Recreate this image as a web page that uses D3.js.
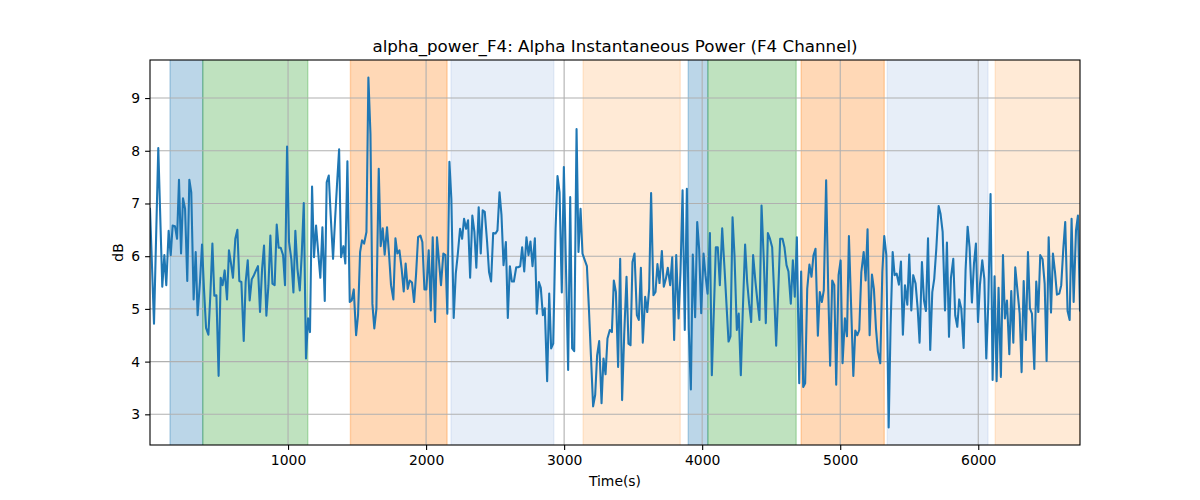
<!DOCTYPE html>
<html><head><meta charset="utf-8">
<script src="https://cdn.jsdelivr.net/npm/d3@7"></script>
<style>body{margin:0;background:#fff}svg{display:block}text{font-family:"DejaVu Sans",sans-serif;fill:#000}</style>
</head><body><svg id="c" width="1200" height="500"></svg>
<script>
const times = [0,29,60,89,104,118,135,150,164,181,196,210,225,239,254,270,285,299,316,331,345,362,377,391,406,423,437,452,466,481,497,512,526,541,558,572,587,601,618,633,647,662,679,693,708,722,737,753,768,782,797,
812,826,843,858,872,887,903,918,932,947,964,978,993,1007,1024,1039,1053,1068,1085,1099,1114,1130,1145,1159,1174,1188,1203,1220,1234,1249,1266,1280,1295,1309,1326,1341,1355,1370,1384,1401,1415,1430,1447,1461,1476,1493,1507,1522,1536,1551,1568,1582,1597,1611,
1625,1640,1657,1671,1686,1700,1717,1732,1746,1763,1778,1792,1807,1823,1838,1852,1867,1881,1898,1913,1927,1942,1959,1973,1988,2002,2019,2034,2048,2065,2079,2094,2108,2125,2140,2154,2169,2183,2200,2215,2229,2246,2261,2275,2290,2304,2319,2335,2350,2364,2381,2396,2410,2425,2442,2456,
2471,2486,2503,2517,2532,2546,2561,2578,2592,2607,2621,2636,2653,2667,2682,2696,2711,2727,2742,2756,2771,2788,2802,2817,2831,2846,2860,2877,2892,2906,2921,2938,2952,2967,2983,2998,3029,3044,3058,3073,3090,3104,3119,3133,3150,3165,3179,3194,3210,3225,3239,3254,
3271,3285,3300,3314,3331,3346,3360,3375,3391,3406,3420,3435,3452,3466,3481,3495,3510,3527,3541,3556,3570,3587,3602,3616,3630,3647,3662,3676,3691,3708,3722,3737,3751,3768,3783,3797,3812,3829,3843,3858,3874,3889,3903,3918,3932,3949,3964,3978,3993,4010,4024,4039,4056,4070,4099,4113,4128,
4145,4162,4191,4205,4220,4234,4251,4265,4280,4294,4311,4326,4340,4355,4369,4386,4401,4415,4430,4447,4461,4476,4490,4507,4521,4536,4550,4565,4582,4596,4611,4625,4642,4657,4671,4686,4703,4717,4732,4746,4761,4777,4792,4806,4821,4838,4852,4867,4881,4898,4913,4927,
4942,4957,4971,4988,5003,5017,5034,5049,5063,5095,5109,5124,5138,5153,5170,5184,5198,5213,5230,5244,5259,5273,5290,5305,5319,5334,5351,5365,5380,5394,5409,5425,5440,5454,5469,5486,5500,5515,5529,5546,5561,5575,5592,5607,5621,5636,5652,5667,5681,5696,5713,5727,5742,5759,
5773,5788,5802,5819,5833,5848,5862,5877,5894,5908,5923,5937,5954,5969,5983,5998,6012,6029,6044,6058,6073,6089,6104,6118,6133,6147,6164,6179,6193,6208,6225,6239,6254,6268,6285,6300,6314,6329,6345,6360,6374,6389,6406,6420,6435,6449,6466,6481,6495,6510,6527,6541,6556,6570,6587,6601,6616,6630,6647,6662,6676,6691,6708,6722,6737];
const values = [6.9,4.72,8.05,5.42,6.02,5.45,6.48,6.02,6.58,6.57,6.33,7.45,6.05,7.10,6.90,5.53,7.45,7.21,5.18,6.08,4.88,5.51,6.22,5.38,4.64,4.51,5.26,6.24,5.25,5.26,3.73,5.59,5.45,5.73,5.18,6.11,5.86,5.59,6.33,6.50,5.53,5.51,4.39,5.51,5.92,5.16,5.56,5.64,5.73,5.81,4.94,
5.76,6.20,4.87,5.45,6.39,5.48,5.45,6.60,6.16,6.16,6.02,5.45,8.08,6.27,5.94,5.31,6.48,5.76,5.35,6.02,7.01,4.06,4.82,4.56,7.32,5.98,6.58,6.02,5.59,6.55,5.15,7.40,7.53,6.77,5.95,6.71,7.37,8.03,5.98,6.19,5.86,7.80,5.13,5.16,5.37,4.50,4.88,6.08,6.30,6.24,6.46,9.39,8.32,5.10,
4.63,5.0,7.66,6.19,6.53,6.03,6.55,6.02,5.45,5.18,6.34,6.05,6.11,5.76,5.33,5.86,5.38,5.54,5.50,5.13,5.64,6.36,6.39,6.27,5.37,5.37,6.11,4.97,6.36,4.75,6.36,5.89,5.45,6.05,6.02,4.91,7.79,7.09,4.83,5.67,6.02,6.52,6.33,6.71,6.52,6.68,5.59,6.77,6.46,5.78,6.93,6.05,6.87,6.84,6.27,5.70,
5.52,6.44,6.43,6.49,7.21,6.79,5.83,6.27,4.83,5.81,5.52,5.52,5.79,5.79,5.81,6.17,5.71,6.36,6.02,6.28,5.81,6.34,4.91,5.51,5.40,4.88,5.01,3.63,5.29,4.25,4.34,6.52,7.52,7.21,5.31,7.69,3.84,7.12,4.25,4.20,8.41,6.08,6.90,6.05,5.92,5.81,5.04,4.12,3.15,3.37,4.12,4.39,
3.21,4.06,3.76,4.44,4.60,4.56,5.54,5.32,3.90,5.95,3.27,4.50,5.61,4.34,4.31,5.89,6.05,4.88,4.79,5.78,4.36,5.23,4.94,5.38,7.20,5.26,5.32,5.85,5.49,6.10,5.42,5.57,5.78,5.45,5.98,4.41,6.02,4.82,5.70,7.25,4.60,7.28,4.63,3.47,6.03,4.84,6.65,6.14,4.92,6.05,5.64,5.29,6.44,3.74,6.17,6.17,5.45,
6.53,5.76,4.38,4.48,6.74,6.02,4.60,4.91,3.74,4.94,6.22,5.51,5.10,4.75,6.02,5.51,5.13,4.79,6.96,5.89,4.73,6.44,6.34,6.17,5.32,4.30,5.26,6.33,6.33,6.17,5.83,5.71,5.10,5.92,5.23,6.36,3.59,5.71,3.52,3.59,5.38,5.84,5.61,6.01,6.14,4.49,5.32,5.13,5.35,7.44,5.38,3.92,
5.54,5.45,3.56,5.64,5.92,3.97,4.82,4.48,6.38,3.73,4.59,4.50,4.60,5.70,6.08,5.54,6.51,4.50,5.65,5.38,4.63,4.19,3.97,5.70,6.38,6.02,2.75,4.69,6.08,5.64,5.67,5.46,5.90,4.51,5.45,5.08,6.03,4.97,5.64,5.48,5.01,4.36,5.89,5.16,4.96,6.34,4.22,5.32,5.57,6.14,6.95,6.80,6.46,4.97,
6.26,4.47,5.59,5.95,4.88,4.66,5.18,5.01,4.26,5.73,6.56,6.17,5.12,5.86,6.24,4.75,5.45,5.92,5.57,4.06,5.13,7.18,3.65,5.62,3.63,5.40,3.71,6.02,4.82,5.16,4.14,5.34,4.36,5.79,5.32,4.91,3.80,5.53,4.41,6.08,5.01,4.91,3.86,5.52,4.94,6.02,5.94,5.48,4.01,6.36,4.93,6.05,5.70,5.27,5.29,5.45,6.14,6.65,4.96,4.79,6.71,5.13,6.49,6.77,4.97];
const spanStarts = [145,382,1452,2181,3138,3899,4041,4717,5341,6123];
const spanEnds   = [382,1143,2152,2925,3841,4041,4681,5319,6070,6737];
const spanColors = ["#1f77b4","#2ca02c","#ff7f0e","#aec7e8","#ffbb78","#1f77b4","#2ca02c","#ff7f0e","#aec7e8","#ffbb78"];
const xTicks = [1000,2000,3000,4000,5000,6000];
const yTicks = [3,4,5,6,7,8,9];

const svg = d3.select("#c");
const L=150,R=1080,T=60,B=445;
const x = d3.scaleLinear().domain([d3.min(times), d3.max(times)]).range([L,R]);
const ymin=d3.min(values), ymax=d3.max(values), pad=(ymax-ymin)*0.05;
const y = d3.scaleLinear().domain([ymin-pad, ymax+pad]).range([B,T]);

const defs = svg.append("defs");
defs.append("clipPath").attr("id","clip").append("rect").attr("x",L).attr("y",T).attr("width",R-L).attr("height",B-T);

// spans
svg.append("g").attr("clip-path","url(#clip)").selectAll("rect").data(spanStarts).join("rect")
  .attr("x",(d)=>x(d)).attr("y",T-2).attr("width",(d,i)=>x(spanEnds[i])-x(d)).attr("height",B-T+4)
  .attr("fill",(d,i)=>spanColors[i]).attr("fill-opacity",0.3)
  .attr("stroke",(d,i)=>spanColors[i]).attr("stroke-opacity",0.3).attr("stroke-width",1.4);

// grid
const g = svg.append("g");
g.selectAll("line.gx").data(xTicks).join("line").attr("x1",d=>x(d)).attr("x2",d=>x(d)).attr("y1",T).attr("y2",B)
  .attr("stroke","#b0b0b0").attr("stroke-width",1.1);
g.selectAll("line.gy").data(yTicks).join("line").attr("y1",d=>y(d)).attr("y2",d=>y(d)).attr("x1",L).attr("x2",R)
  .attr("stroke","#b0b0b0").attr("stroke-width",1.1);

// line
svg.append("path").datum(times).attr("clip-path","url(#clip)")
  .attr("d", d3.line().x(d=>x(d)).y((d,i)=>y(values[i])))
  .attr("fill","none").attr("stroke","#1f77b4").attr("stroke-width",2.08).attr("stroke-linejoin","round").attr("stroke-linecap","square");

// axes
const xa = svg.append("g").attr("transform",`translate(0,${B})`).call(d3.axisBottom(x).tickValues(xTicks).tickFormat(d3.format("d")).tickSizeOuter(0).tickSize(4.9).tickPadding(4.9));
const ya = svg.append("g").attr("transform",`translate(${L},0)`).call(d3.axisLeft(y).tickValues(yTicks).tickFormat(d3.format("d")).tickSizeOuter(0).tickSize(4.9).tickPadding(4.9));
[xa,ya].forEach(a=>{a.select(".domain").remove();a.selectAll("line").attr("stroke","#000").attr("stroke-width",1.1);
  a.selectAll("text").attr("font-size","13.9px").attr("font-family","DejaVu Sans").attr("fill","#000");});

// frame
svg.append("rect").attr("x",L).attr("y",T).attr("width",R-L).attr("height",B-T).attr("fill","none").attr("stroke","#000").attr("stroke-width",1.1);

svg.append("text").attr("x",(L+R)/2).attr("y",52).attr("text-anchor","middle").attr("font-size","16.7px").text("alpha_power_F4: Alpha Instantaneous Power (F4 Channel)");
svg.append("text").attr("x",(L+R)/2).attr("y",486).attr("text-anchor","middle").attr("font-size","13.9px").text("Time(s)");
svg.append("text").attr("transform",`translate(123,${(T+B)/2}) rotate(-90)`).attr("text-anchor","middle").attr("font-size","13.9px").text("dB");
</script></body></html>
